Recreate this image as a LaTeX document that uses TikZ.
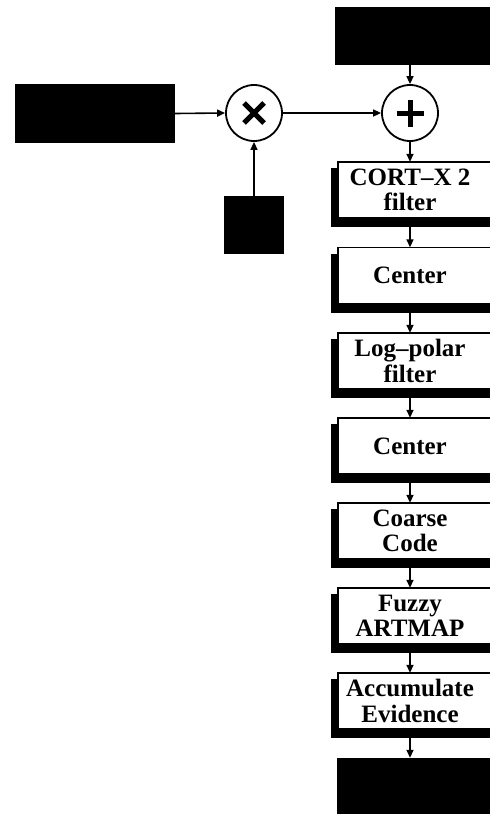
\documentclass[tikz,border=0pt]{standalone}
\usepackage{fontspec}
\setmainfont{Liberation Serif}
\usetikzlibrary{arrows.meta,calc}
\tikzset{
  arr/.style={line width=1.6pt,-{Triangle[length=8pt,width=7pt]}},
  blackbox/.style={fill=black,draw=none,inner sep=0pt},
  opcircle/.style={circle,draw,line width=1.8pt,minimum size=56pt,inner sep=0pt},
  stagetext/.style={minimum width=144pt,minimum height=56pt,inner sep=0pt,align=center,
    font=\bfseries\fontsize{25}{25.5}\selectfont}
}
\newcommand\mystage[3]{%
  \fill (331,#2-22) rectangle (530,#2+37);
  \draw[fill=white,line width=1.2pt] (338,#2-28) rectangle (530,#2+28);
  \node[stagetext] (#1) at (410,#2) {#3};
}
\begin{document}
\begin{tikzpicture}[x=1pt,y=-1pt]
\clip (0,0) rectangle (490,814);
\fill[white] (0,0) rectangle (490,814);
% sources
\node[blackbox,minimum width=195pt,minimum height=58pt] (top) at (432.5,36) {};
\node[blackbox,minimum width=160pt,minimum height=59pt] (left) at (95,113.5) {};
\node[blackbox,minimum width=60pt,minimum height=58pt] (small) at (254,225) {};
% operators
\node[opcircle] (times) at (254,113) {};
\node[opcircle] (plus) at (410,113) {};
\draw[line width=5pt] ([shift={(-10,-10)}]times.center) -- ([shift={(10,10)}]times.center);
\draw[line width=5pt] ([shift={(-10,10)}]times.center) -- ([shift={(10,-10)}]times.center);
\draw[line width=5pt] ([xshift=-13.5pt]plus.center) -- ([xshift=13.5pt]plus.center);
\draw[line width=5pt] ([yshift=-13.5pt]plus.center) -- ([yshift=13.5pt]plus.center);
% stages
\mystage{cortx}{190}{CORT–X 2\\filter}
\mystage{centerA}{275.5}{Center}
\mystage{logpolar}{361}{Log–polar\\filter}
\mystage{centerB}{446}{Center}
\mystage{coarse}{531}{Coarse\\Code}
\mystage{fuzzy}{616}{Fuzzy\\ARTMAP}
\mystage{accum}{701}{Accumulate\\Evidence}
\node[blackbox,minimum width=195pt,minimum height=72pt] (out) at (434.5,794) {};
% connectors
\draw[arr] (left.east) -- (times.west);
\draw[arr] (small.north) -- (times.south);
\draw[arr] (times.east) -- (plus.west);
\draw[arr] (top.south -| plus.north) -- (plus.north);
\draw[arr] (plus.south) -- (cortx.north);
\draw[arr] ([yshift=-9pt]cortx.south) -- (centerA.north);
\draw[arr] ([yshift=-9pt]centerA.south) -- (logpolar.north);
\draw[arr] ([yshift=-9pt]logpolar.south) -- (centerB.north);
\draw[arr] ([yshift=-9pt]centerB.south) -- (coarse.north);
\draw[arr] ([yshift=-9pt]coarse.south) -- (fuzzy.north);
\draw[arr] ([yshift=-9pt]fuzzy.south) -- (accum.north);
\draw[arr] ([yshift=-9pt]accum.south) -- (out.north -| accum.south);
\end{tikzpicture}
\end{document}
